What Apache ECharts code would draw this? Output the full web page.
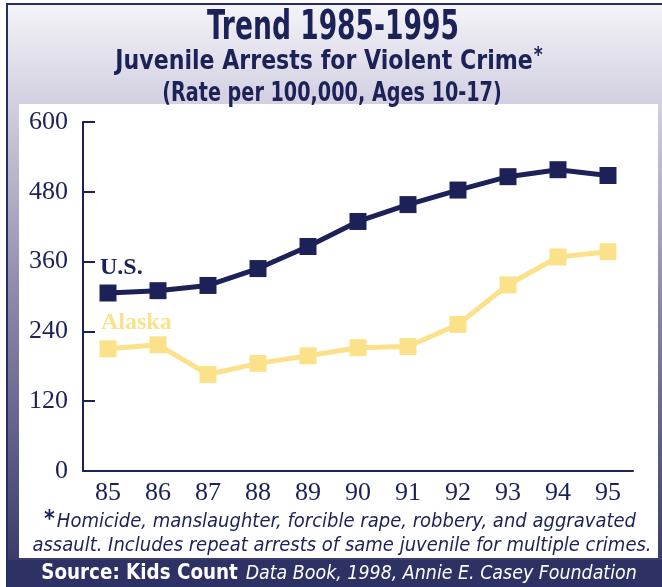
<!DOCTYPE html>
<html><head><meta charset="utf-8">
<script src="https://cdn.jsdelivr.net/npm/echarts@6/dist/echarts.min.js"></script>
<style>html,body{margin:0;padding:0;background:#fff}#c{width:662px;height:587px}</style>
</head><body><div id="c"></div>
<script>
const categories = ['85','86','87','88','89','90','91','92','93','94','95'];
const usValues = [306, 310, 319, 348, 386, 429, 458, 483, 506, 518, 508];
const alaskaValues = [210, 217, 166, 185, 198, 212, 214, 252, 320, 368, 377];
const yMin = 0, yMax = 600, yStep = 120;
const seriesNames = ['U.S.', 'Alaska'];
const titleText = 'Trend 1985-1995';
const subtitleText = 'Juvenile Arrests for Violent Crime';
const subtitle2Text = '(Rate per 100,000, Ages 10-17)';
const footLine1 = 'Homicide, manslaughter, forcible rape, robbery, and aggravated';
const footLine2 = 'assault. Includes repeat arrests of same juvenile for multiple crimes.';
const sourceBold = 'Source: Kids Count';
const sourceItalic = 'Data Book, 1998, Annie E. Casey Foundation';

const NAVY = '#1c2257';
const YEL = '#fbe28a';
const COND = "'Liberation Sans Narrow','DejaVu Sans Condensed','Roboto Condensed','Arial Narrow',Roboto,sans-serif";
const SERIF = "'Liberation Serif','DejaVu Serif',serif";

const chart = echarts.init(document.getElementById('c'), null, {renderer: 'canvas'});
chart.setOption({
  animation: false,
  grid: {left: 83, right: 29, top: 122, bottom: 116},
  xAxis: {
    type: 'category', data: categories, boundaryGap: true,
    axisLine: {lineStyle: {color: NAVY, width: 2}},
    axisTick: {inside: true, length: 9, lineStyle: {color: NAVY, width: 2}},
    axisLabel: {color: NAVY, fontFamily: SERIF, fontSize: 26, margin: 9}
  },
  yAxis: {
    type: 'value', min: yMin, max: yMax, interval: yStep,
    splitLine: {show: false},
    axisLine: {show: true, lineStyle: {color: NAVY, width: 2}},
    axisTick: {show: true, inside: true, length: 12, lineStyle: {color: NAVY, width: 2}},
    axisLabel: {color: NAVY, fontFamily: SERIF, fontSize: 26, margin: 15}
  },
  series: [
    {name: seriesNames[0], type: 'line', data: usValues, symbol: 'rect', symbolSize: 17,
     lineStyle: {color: NAVY, width: 5}, itemStyle: {color: NAVY}, z: 4},
    {name: seriesNames[1], type: 'line', data: alaskaValues, symbol: 'rect', symbolSize: 17,
     lineStyle: {color: YEL, width: 5}, itemStyle: {color: YEL}, z: 3}
  ],
  graphic: [
    {type: 'rect', z: -10, shape: {x: 0, y: 0, width: 662, height: 587},
     style: {fill: new echarts.graphic.LinearGradient(0, 0, 0, 1, [
       {offset: 0, color: '#f5f5f9'}, {offset: 0.17, color: '#d3d1e2'},
       {offset: 0.5, color: '#8f8aab'}, {offset: 0.95, color: '#3b3d6d'}, {offset: 1, color: '#2e3163'}])}},
    {type: 'rect', z: -9, shape: {x: 0, y: 0, width: 6, height: 587}, style: {fill: '#ffffff'}},
    {type: 'rect', z: -9, shape: {x: 0, y: 0, width: 662, height: 3}, style: {fill: '#ffffff'}},
    {type: 'rect', z: -8, shape: {x: 6, y: 3, width: 2, height: 584}, style: {fill: '#2a2d60'}},
    {type: 'rect', z: -8, shape: {x: 6, y: 3, width: 656, height: 2}, style: {fill: '#2a2d60'}},
    {type: 'rect', z: -8, shape: {x: 19, y: 104, width: 639, height: 454}, style: {fill: '#ffffff'}},
    {type: 'rect', z: -8, shape: {x: 8, y: 560, width: 654, height: 27}, style: {fill: '#2e3163'}},
    {type: 'text', z: 5, x: 333, y: 28, scaleX: 0.72,
     style: {x: 0, y: 0, text: titleText, align: 'center', verticalAlign: 'middle',
      font: 'bold 41px ' + COND, fill: NAVY}},
    {type: 'text', z: 5, x: 329, y: 62, scaleX: 0.91,
     style: {x: 0, y: 0, align: 'center', verticalAlign: 'middle',
      text: '{a|' + subtitleText + '}{s|*}',
      rich: {a: {font: 'bold 27px ' + COND, fill: NAVY},
             s: {font: 'bold 21px ' + COND, fill: NAVY, padding: [0, 0, 10, 1]}}}},
    {type: 'text', z: 5, x: 332, y: 94, scaleX: 0.79,
     style: {x: 0, y: 0, text: subtitle2Text, align: 'center', verticalAlign: 'middle',
      font: 'bold 27px ' + COND, fill: NAVY}},
    {type: 'text', z: 5, style: {x: 100, y: 268, text: seriesNames[0], align: 'left', verticalAlign: 'middle',
      font: 'bold 24px ' + SERIF, fill: NAVY}},
    {type: 'text', z: 5, style: {x: 101, y: 323, text: seriesNames[1], align: 'left', verticalAlign: 'middle',
      font: 'bold 24px ' + SERIF, fill: YEL}},
    {type: 'text', z: 5, x: 340, y: 522,
     style: {x: 0, y: 0, align: 'center', verticalAlign: 'middle',
      text: '{s|*}{t|' + footLine1 + '}',
      rich: {s: {font: 'bold 23px ' + COND, fill: NAVY, padding: [0, 2, 4, 0]},
             t: {font: 'italic 20px ' + COND, fill: NAVY}}}},
    {type: 'text', z: 5, x: 342, y: 546,
     style: {x: 0, y: 0, align: 'center', verticalAlign: 'middle',
      text: footLine2, font: 'italic 20px ' + COND, fill: NAVY}},
    {type: 'text', z: 5, x: 339, y: 574, scaleX: 0.97,
     style: {x: 0, y: 0, align: 'center', verticalAlign: 'middle',
      text: '{b|' + sourceBold + '}{i|' + sourceItalic + '}',
      rich: {b: {font: 'bold 21px ' + COND, fill: '#ffffff', padding: [0, 8, 0, 0]},
             i: {font: 'italic 20px ' + COND, fill: '#ffffff'}}}}
  ]
});
</script></body></html>
